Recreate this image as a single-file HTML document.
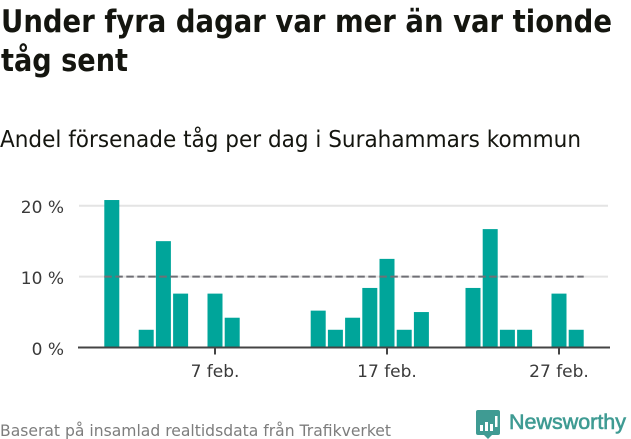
<!DOCTYPE html>
<html lang="sv">
<head>
<meta charset="utf-8">
<title>Under fyra dagar var mer än var tionde tåg sent</title>
<style>
html,body{margin:0;padding:0;background:#fff;}
svg{display:block;font-family:"DejaVu Sans","Liberation Sans",sans-serif;}
</style>
</head>
<body>
<svg id="chart" width="631" height="439" viewBox="0 0 631 439" xmlns="http://www.w3.org/2000/svg">
  <rect x="0" y="0" width="631" height="439" fill="#fff"/>
  <text x="1" y="32" font-size="31" font-weight="700" fill="#14150f" textLength="611" lengthAdjust="spacingAndGlyphs">Under fyra dagar var mer än var tionde</text>
  <text x="1" y="71" font-size="31" font-weight="700" fill="#14150f" textLength="127" lengthAdjust="spacingAndGlyphs">tåg sent</text>
  <text x="0" y="147" font-size="23" fill="#14150f" textLength="581" lengthAdjust="spacingAndGlyphs">Andel försenade tåg per dag i Surahammars kommun</text>
  <g id="grid"></g>
  <g id="bars"></g>
  <g id="axes"></g>
  <text x="0" y="436" font-size="16" fill="#7d7d7d" textLength="391" lengthAdjust="spacingAndGlyphs">Baserat på insamlad realtidsdata från Trafikverket</text>
  <g>
    <path d="M478 410H498Q500 410 500 412V433Q500 435 498 435H492L488 439L484 435H478Q476 435 476 433V412Q476 410 478 410Z" fill="#3f9b93"/>
    <rect x="480" y="425" width="3" height="6" fill="#fff"/>
    <rect x="485" y="422" width="3" height="9" fill="#fff"/>
    <rect x="490" y="424" width="3" height="7" fill="#fff"/>
    <rect x="495" y="416" width="2.5" height="11" fill="#fff"/>
    <text x="509" y="429" font-family="'Liberation Sans',sans-serif" font-size="21" font-weight="400" fill="#3f9b93" stroke="#3f9b93" stroke-width="0.6" textLength="117" lengthAdjust="spacingAndGlyphs">Newsworthy</text>
  </g>
</svg>
<script>
const days = [1, 3, 4, 5, 7, 8, 13, 14, 15, 16, 17, 18, 19, 22, 23, 24, 25, 27, 28];
const shares = [20.8, 2.5, 15.0, 7.6, 7.6, 4.2, 5.2, 2.5, 4.2, 8.4, 12.5, 2.5, 5.0, 8.4, 16.7, 2.5, 2.5, 7.6, 2.5];
const yTicks = [0, 10, 20];
const yTickLabels = ['0 %', '10 %', '20 %'];
const xTicks = [7, 17, 27];
const xTickLabels = ['7 feb.', '17 feb.', '27 feb.'];
const referenceValue = 10;
const referenceStart = 1;
const referenceEnd = 28;

const NS = 'http://www.w3.org/2000/svg';
const xScale = d => 215 + (d - 7) * 17.2;
const yScale = v => 347.5 - v * 7.09;
const BAR_W = 15;

function make(parent, tag, attrs, text) {
  const el = document.createElementNS(NS, tag);
  for (const k in attrs) el.setAttribute(k, attrs[k]);
  if (text !== undefined) el.textContent = text;
  parent.appendChild(el);
  return el;
}

const grid = document.getElementById('grid');
const barsG = document.getElementById('bars');
const axes = document.getElementById('axes');

yTicks.forEach((v, i) => {
  if (v !== 0) {
    const line = make(grid, 'line', {x1: 79, x2: 608, y1: yScale(v), y2: yScale(v), stroke: '#e4e4e4', 'stroke-width': 2});
    
    
  }
  const label = make(axes, 'text', {x: 64, y: yScale(v) + 7.5, 'text-anchor': 'end', 'font-size': 17, fill: '#3a3a3a'}, yTickLabels[i]);
  
  
});

days.forEach((d, i) => {
  const top = yScale(shares[i]);
  const bar = make(barsG, 'rect', {x: xScale(d) - BAR_W / 2, y: top, width: BAR_W, height: yScale(0) - top, fill: '#00a59a'});
  
  
});

const axisLine = make(axes, 'line', {x1: 78, x2: 610, y1: yScale(0), y2: yScale(0), stroke: '#444', 'stroke-width': 2});



xTicks.forEach((d, i) => {
  const tick = make(axes, 'line', {x1: xScale(d), x2: xScale(d), y1: yScale(0), y2: yScale(0) + 7, stroke: '#444', 'stroke-width': 2});
  
  
  const label = make(axes, 'text', {x: xScale(d), y: 377, 'text-anchor': 'middle', 'font-size': 17, fill: '#3a3a3a'}, xTickLabels[i]);
  
  
});

const refLine = make(axes, 'line', {x1: xScale(referenceStart) - BAR_W / 2, x2: xScale(referenceEnd) + BAR_W / 2, y1: yScale(referenceValue), y2: yScale(referenceValue), stroke: '#6f6f75', 'stroke-width': 2, 'stroke-dasharray': '7.5 3.5'});


</script>
</body>
</html>
